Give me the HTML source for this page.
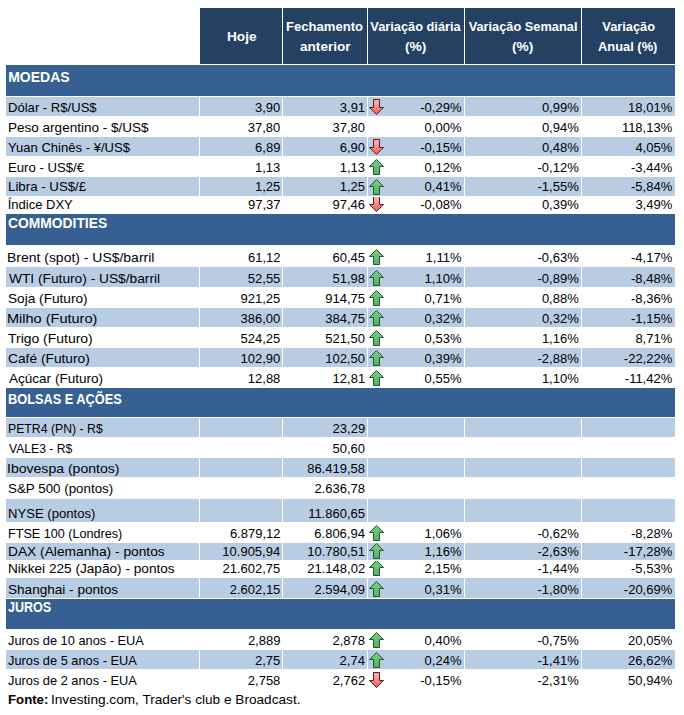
<!DOCTYPE html>
<html><head><meta charset="utf-8"><style>
html,body{margin:0;padding:0;background:#fff;}
body{width:684px;height:715px;position:relative;overflow:hidden;font-family:"Liberation Sans",sans-serif;color:#000;}
.r{position:absolute;}
.t{position:absolute;white-space:nowrap;}
.clip{position:absolute;overflow:hidden;}
.ar{position:absolute;}
</style></head><body>
<svg width="0" height="0" style="position:absolute"><defs><linearGradient id="gu" x1="0" y1="0" x2="0" y2="1"><stop offset="0" stop-color="#7CCB89"/><stop offset="1" stop-color="#52B264"/></linearGradient><linearGradient id="gd" x1="0" y1="0" x2="0" y2="1"><stop offset="0" stop-color="#F8B8BC"/><stop offset="0.5" stop-color="#F48A8E"/><stop offset="1" stop-color="#EE5A5A"/></linearGradient></defs></svg>
<div class="r" style="left:200px;top:8px;width:475px;height:56px;background:#244062"></div>
<div class="r" style="left:282px;top:8px;width:1px;height:56px;background:#fff"></div>
<div class="r" style="left:367px;top:8px;width:1px;height:56px;background:#fff"></div>
<div class="r" style="left:464px;top:8px;width:1px;height:56px;background:#fff"></div>
<div class="r" style="left:581px;top:8px;width:1px;height:56px;background:#fff"></div>
<div class="t" style="left:226.72px;top:29.06px;font-size:12.8px;line-height:15px;font-weight:bold;color:#fff;transform:scaleX(1.0631);transform-origin:0 0;">Hoje</div>
<div class="t" style="left:285.75px;top:19.06px;font-size:12.8px;line-height:15px;font-weight:bold;color:#fff;transform:scaleX(1.0210);transform-origin:0 0;">Fechamento</div>
<div class="t" style="left:299.79px;top:38.86px;font-size:12.8px;line-height:15px;font-weight:bold;color:#fff;transform:scaleX(1.0615);transform-origin:0 0;">anterior</div>
<div class="t" style="left:370.34px;top:19.06px;font-size:12.8px;line-height:15px;font-weight:bold;color:#fff;">Variação diária</div>
<div class="t" style="left:405.31px;top:38.86px;font-size:12.8px;line-height:15px;font-weight:bold;color:#fff;transform:scaleX(1.0739);transform-origin:0 0;">(%)</div>
<div class="t" style="left:468.64px;top:19.06px;font-size:12.8px;line-height:15px;font-weight:bold;color:#fff;">Variação Semanal</div>
<div class="t" style="left:511.72px;top:38.86px;font-size:12.8px;line-height:15px;font-weight:bold;color:#fff;transform:scaleX(1.0685);transform-origin:0 0;">(%)</div>
<div class="t" style="left:602.34px;top:19.06px;font-size:12.8px;line-height:15px;font-weight:bold;color:#fff;">Variação</div>
<div class="t" style="left:597.98px;top:38.86px;font-size:12.8px;line-height:15px;font-weight:bold;color:#fff;transform:scaleX(1.0067);transform-origin:0 0;">Anual (%)</div>
<div class="r" style="left:6px;top:65px;width:669px;height:31px;background:#366092"></div>
<div class="t" style="left:8.19px;top:68.65px;font-size:14.0px;line-height:17px;font-weight:bold;color:#fff;">MOEDAS</div>
<div class="r" style="left:6px;top:97px;width:669px;height:19px;background:#B8CCE4"></div>
<div class="r" style="left:199px;top:97px;width:1px;height:19px;background:#fff"></div>
<div class="r" style="left:282px;top:97px;width:1px;height:19px;background:#fff"></div>
<div class="r" style="left:367px;top:97px;width:1px;height:19px;background:#fff"></div>
<div class="r" style="left:464px;top:97px;width:1px;height:19px;background:#fff"></div>
<div class="r" style="left:581px;top:97px;width:1px;height:19px;background:#fff"></div>
<div class="t" style="left:7.55px;top:99.50px;font-size:13.0px;line-height:16px;transform:scaleX(1.0057);transform-origin:0 0;">Dólar - R$/US$</div>
<div class="t" style="left:254.97px;top:99.50px;font-size:13.0px;line-height:16px;">3,90</div>
<div class="t" style="left:339.80px;top:99.50px;font-size:13.0px;line-height:16px;">3,91</div>
<div class="t" style="left:420.25px;top:99.50px;font-size:13.0px;line-height:16px;">-0,29%</div>
<div class="t" style="left:541.90px;top:99.50px;font-size:13.0px;line-height:16px;">0,99%</div>
<div class="t" style="left:628.12px;top:99.50px;font-size:13.0px;line-height:16px;">18,01%</div>
<div class="clip" style="left:368px;top:97px;width:20px;height:19px"><svg class="ar" style="left:0px;top:1px" width="17" height="18" viewBox="0 0 17 18"><path d="M5.5 1.5 L11.5 1.5 L11.5 9.5 L15.5 9.5 L8.5 16.5 L1.5 9.5 L5.5 9.5 Z" fill="url(#gd)" stroke="#621818" stroke-width="1"/></svg></div>
<div class="t" style="left:7.52px;top:119.50px;font-size:13.0px;line-height:16px;transform:scaleX(1.0403);transform-origin:0 0;">Peso argentino - $/US$</div>
<div class="t" style="left:247.75px;top:119.50px;font-size:13.0px;line-height:16px;">37,80</div>
<div class="t" style="left:332.45px;top:119.50px;font-size:13.0px;line-height:16px;">37,80</div>
<div class="t" style="left:424.60px;top:119.50px;font-size:13.0px;line-height:16px;">0,00%</div>
<div class="t" style="left:541.90px;top:119.50px;font-size:13.0px;line-height:16px;">0,94%</div>
<div class="t" style="left:621.88px;top:119.50px;font-size:13.0px;line-height:16px;">118,13%</div>
<div class="r" style="left:6px;top:137px;width:669px;height:19px;background:#B8CCE4"></div>
<div class="r" style="left:199px;top:137px;width:1px;height:19px;background:#fff"></div>
<div class="r" style="left:282px;top:137px;width:1px;height:19px;background:#fff"></div>
<div class="r" style="left:367px;top:137px;width:1px;height:19px;background:#fff"></div>
<div class="r" style="left:464px;top:137px;width:1px;height:19px;background:#fff"></div>
<div class="r" style="left:581px;top:137px;width:1px;height:19px;background:#fff"></div>
<div class="t" style="left:7.87px;top:139.50px;font-size:13.0px;line-height:16px;transform:scaleX(1.0050);transform-origin:0 0;">Yuan Chinês - ¥/US$</div>
<div class="t" style="left:255.10px;top:139.50px;font-size:13.0px;line-height:16px;">6,89</div>
<div class="t" style="left:339.67px;top:139.50px;font-size:13.0px;line-height:16px;">6,90</div>
<div class="t" style="left:420.25px;top:139.50px;font-size:13.0px;line-height:16px;">-0,15%</div>
<div class="t" style="left:541.90px;top:139.50px;font-size:13.0px;line-height:16px;">0,48%</div>
<div class="t" style="left:635.40px;top:139.50px;font-size:13.0px;line-height:16px;">4,05%</div>
<div class="clip" style="left:368px;top:137px;width:20px;height:19px"><svg class="ar" style="left:0px;top:1px" width="17" height="18" viewBox="0 0 17 18"><path d="M5.5 1.5 L11.5 1.5 L11.5 9.5 L15.5 9.5 L8.5 16.5 L1.5 9.5 L5.5 9.5 Z" fill="url(#gd)" stroke="#621818" stroke-width="1"/></svg></div>
<div class="t" style="left:7.55px;top:159.50px;font-size:13.0px;line-height:16px;transform:scaleX(1.0121);transform-origin:0 0;">Euro - US$/€</div>
<div class="t" style="left:255.04px;top:159.50px;font-size:13.0px;line-height:16px;">1,13</div>
<div class="t" style="left:339.74px;top:159.50px;font-size:13.0px;line-height:16px;">1,13</div>
<div class="t" style="left:424.60px;top:159.50px;font-size:13.0px;line-height:16px;">0,12%</div>
<div class="t" style="left:537.54px;top:159.50px;font-size:13.0px;line-height:16px;">-0,12%</div>
<div class="t" style="left:631.04px;top:159.50px;font-size:13.0px;line-height:16px;">-3,44%</div>
<div class="clip" style="left:368px;top:157px;width:20px;height:19px"><svg class="ar" style="left:0px;top:1px" width="17" height="18" viewBox="0 0 17 18"><path d="M8.5 1.5 L15.5 8.5 L11.5 8.5 L11.5 16.5 L5.5 16.5 L5.5 8.5 L1.5 8.5 Z" fill="url(#gu)" stroke="#1D5A27" stroke-width="1"/></svg></div>
<div class="r" style="left:6px;top:177px;width:669px;height:19px;background:#B8CCE4"></div>
<div class="r" style="left:199px;top:177px;width:1px;height:19px;background:#fff"></div>
<div class="r" style="left:282px;top:177px;width:1px;height:19px;background:#fff"></div>
<div class="r" style="left:367px;top:177px;width:1px;height:19px;background:#fff"></div>
<div class="r" style="left:464px;top:177px;width:1px;height:19px;background:#fff"></div>
<div class="r" style="left:581px;top:177px;width:1px;height:19px;background:#fff"></div>
<div class="t" style="left:7.54px;top:179.10px;font-size:13.0px;line-height:16px;transform:scaleX(1.0208);transform-origin:0 0;">Libra - US$/£</div>
<div class="t" style="left:255.04px;top:179.10px;font-size:13.0px;line-height:16px;">1,25</div>
<div class="t" style="left:339.74px;top:179.10px;font-size:13.0px;line-height:16px;">1,25</div>
<div class="t" style="left:424.60px;top:179.10px;font-size:13.0px;line-height:16px;">0,41%</div>
<div class="t" style="left:537.54px;top:179.10px;font-size:13.0px;line-height:16px;">-1,55%</div>
<div class="t" style="left:631.04px;top:179.10px;font-size:13.0px;line-height:16px;">-5,84%</div>
<div class="clip" style="left:368px;top:177px;width:20px;height:19px"><svg class="ar" style="left:0px;top:1px" width="17" height="18" viewBox="0 0 17 18"><path d="M8.5 1.5 L15.5 8.5 L11.5 8.5 L11.5 16.5 L5.5 16.5 L5.5 8.5 L1.5 8.5 Z" fill="url(#gu)" stroke="#1D5A27" stroke-width="1"/></svg></div>
<div class="t" style="left:7.69px;top:196.50px;font-size:13.0px;line-height:16px;">Índice DXY</div>
<div class="t" style="left:247.95px;top:196.50px;font-size:13.0px;line-height:16px;">97,37</div>
<div class="t" style="left:332.52px;top:196.50px;font-size:13.0px;line-height:16px;">97,46</div>
<div class="t" style="left:420.25px;top:196.50px;font-size:13.0px;line-height:16px;">-0,08%</div>
<div class="t" style="left:541.90px;top:196.50px;font-size:13.0px;line-height:16px;">0,39%</div>
<div class="t" style="left:635.40px;top:196.50px;font-size:13.0px;line-height:16px;">3,49%</div>
<div class="clip" style="left:368px;top:197px;width:20px;height:17px"><svg class="ar" style="left:0px;top:-2px" width="17" height="18" viewBox="0 0 17 18"><path d="M5.5 1.5 L11.5 1.5 L11.5 9.5 L15.5 9.5 L8.5 16.5 L1.5 9.5 L5.5 9.5 Z" fill="url(#gd)" stroke="#621818" stroke-width="1"/></svg></div>
<div class="r" style="left:6px;top:214px;width:669px;height:31px;background:#366092"></div>
<div class="t" style="left:8.25px;top:214.65px;font-size:14.0px;line-height:17px;font-weight:bold;color:#fff;transform:scaleX(0.9883);transform-origin:0 0;">COMMODITIES</div>
<div class="t" style="left:7.48px;top:249.50px;font-size:13.0px;line-height:16px;transform:scaleX(1.0737);transform-origin:0 0;">Brent (spot) - US$/barril</div>
<div class="t" style="left:247.95px;top:249.50px;font-size:13.0px;line-height:16px;">61,12</div>
<div class="t" style="left:332.52px;top:249.50px;font-size:13.0px;line-height:16px;">60,45</div>
<div class="t" style="left:425.57px;top:249.50px;font-size:13.0px;line-height:16px;">1,11%</div>
<div class="t" style="left:537.54px;top:249.50px;font-size:13.0px;line-height:16px;">-0,63%</div>
<div class="t" style="left:631.04px;top:249.50px;font-size:13.0px;line-height:16px;">-4,17%</div>
<div class="clip" style="left:368px;top:245px;width:20px;height:21px"><svg class="ar" style="left:0px;top:3px" width="17" height="18" viewBox="0 0 17 18"><path d="M8.5 1.5 L15.5 8.5 L11.5 8.5 L11.5 16.5 L5.5 16.5 L5.5 8.5 L1.5 8.5 Z" fill="url(#gu)" stroke="#1D5A27" stroke-width="1"/></svg></div>
<div class="r" style="left:6px;top:267px;width:669px;height:20px;background:#B8CCE4"></div>
<div class="r" style="left:199px;top:267px;width:1px;height:20px;background:#fff"></div>
<div class="r" style="left:282px;top:267px;width:1px;height:20px;background:#fff"></div>
<div class="r" style="left:367px;top:267px;width:1px;height:20px;background:#fff"></div>
<div class="r" style="left:464px;top:267px;width:1px;height:20px;background:#fff"></div>
<div class="r" style="left:581px;top:267px;width:1px;height:20px;background:#fff"></div>
<div class="t" style="left:8.53px;top:270.50px;font-size:13.0px;line-height:16px;transform:scaleX(1.0564);transform-origin:0 0;">WTI (Futuro) - US$/barril</div>
<div class="t" style="left:247.82px;top:270.50px;font-size:13.0px;line-height:16px;">52,55</div>
<div class="t" style="left:332.52px;top:270.50px;font-size:13.0px;line-height:16px;">51,98</div>
<div class="t" style="left:424.60px;top:270.50px;font-size:13.0px;line-height:16px;">1,10%</div>
<div class="t" style="left:537.54px;top:270.50px;font-size:13.0px;line-height:16px;">-0,89%</div>
<div class="t" style="left:631.04px;top:270.50px;font-size:13.0px;line-height:16px;">-8,48%</div>
<div class="clip" style="left:368px;top:267px;width:20px;height:20px"><svg class="ar" style="left:0px;top:2px" width="17" height="18" viewBox="0 0 17 18"><path d="M8.5 1.5 L15.5 8.5 L11.5 8.5 L11.5 16.5 L5.5 16.5 L5.5 8.5 L1.5 8.5 Z" fill="url(#gu)" stroke="#1D5A27" stroke-width="1"/></svg></div>
<div class="t" style="left:7.99px;top:290.50px;font-size:13.0px;line-height:16px;transform:scaleX(1.0498);transform-origin:0 0;">Soja (Futuro)</div>
<div class="t" style="left:240.54px;top:290.50px;font-size:13.0px;line-height:16px;">921,25</div>
<div class="t" style="left:325.24px;top:290.50px;font-size:13.0px;line-height:16px;">914,75</div>
<div class="t" style="left:424.60px;top:290.50px;font-size:13.0px;line-height:16px;">0,71%</div>
<div class="t" style="left:541.90px;top:290.50px;font-size:13.0px;line-height:16px;">0,88%</div>
<div class="t" style="left:631.04px;top:290.50px;font-size:13.0px;line-height:16px;">-8,36%</div>
<div class="clip" style="left:368px;top:288px;width:20px;height:19px"><svg class="ar" style="left:0px;top:1px" width="17" height="18" viewBox="0 0 17 18"><path d="M8.5 1.5 L15.5 8.5 L11.5 8.5 L11.5 16.5 L5.5 16.5 L5.5 8.5 L1.5 8.5 Z" fill="url(#gu)" stroke="#1D5A27" stroke-width="1"/></svg></div>
<div class="r" style="left:6px;top:308px;width:669px;height:19px;background:#B8CCE4"></div>
<div class="r" style="left:199px;top:308px;width:1px;height:19px;background:#fff"></div>
<div class="r" style="left:282px;top:308px;width:1px;height:19px;background:#fff"></div>
<div class="r" style="left:367px;top:308px;width:1px;height:19px;background:#fff"></div>
<div class="r" style="left:464px;top:308px;width:1px;height:19px;background:#fff"></div>
<div class="r" style="left:581px;top:308px;width:1px;height:19px;background:#fff"></div>
<div class="t" style="left:7.44px;top:310.50px;font-size:13.0px;line-height:16px;transform:scaleX(1.1159);transform-origin:0 0;">Milho (Futuro)</div>
<div class="t" style="left:240.48px;top:310.50px;font-size:13.0px;line-height:16px;">386,00</div>
<div class="t" style="left:325.24px;top:310.50px;font-size:13.0px;line-height:16px;">384,75</div>
<div class="t" style="left:424.60px;top:310.50px;font-size:13.0px;line-height:16px;">0,32%</div>
<div class="t" style="left:541.90px;top:310.50px;font-size:13.0px;line-height:16px;">0,32%</div>
<div class="t" style="left:631.04px;top:310.50px;font-size:13.0px;line-height:16px;">-1,15%</div>
<div class="clip" style="left:368px;top:308px;width:20px;height:19px"><svg class="ar" style="left:0px;top:1px" width="17" height="18" viewBox="0 0 17 18"><path d="M8.5 1.5 L15.5 8.5 L11.5 8.5 L11.5 16.5 L5.5 16.5 L5.5 8.5 L1.5 8.5 Z" fill="url(#gu)" stroke="#1D5A27" stroke-width="1"/></svg></div>
<div class="t" style="left:8.32px;top:330.50px;font-size:13.0px;line-height:16px;transform:scaleX(1.0723);transform-origin:0 0;">Trigo (Futuro)</div>
<div class="t" style="left:240.54px;top:330.50px;font-size:13.0px;line-height:16px;">524,25</div>
<div class="t" style="left:325.18px;top:330.50px;font-size:13.0px;line-height:16px;">521,50</div>
<div class="t" style="left:424.60px;top:330.50px;font-size:13.0px;line-height:16px;">0,53%</div>
<div class="t" style="left:541.90px;top:330.50px;font-size:13.0px;line-height:16px;">1,16%</div>
<div class="t" style="left:635.40px;top:330.50px;font-size:13.0px;line-height:16px;">8,71%</div>
<div class="clip" style="left:368px;top:328px;width:20px;height:19px"><svg class="ar" style="left:0px;top:1px" width="17" height="18" viewBox="0 0 17 18"><path d="M8.5 1.5 L15.5 8.5 L11.5 8.5 L11.5 16.5 L5.5 16.5 L5.5 8.5 L1.5 8.5 Z" fill="url(#gu)" stroke="#1D5A27" stroke-width="1"/></svg></div>
<div class="r" style="left:6px;top:348px;width:669px;height:19px;background:#B8CCE4"></div>
<div class="r" style="left:199px;top:348px;width:1px;height:19px;background:#fff"></div>
<div class="r" style="left:282px;top:348px;width:1px;height:19px;background:#fff"></div>
<div class="r" style="left:367px;top:348px;width:1px;height:19px;background:#fff"></div>
<div class="r" style="left:464px;top:348px;width:1px;height:19px;background:#fff"></div>
<div class="r" style="left:581px;top:348px;width:1px;height:19px;background:#fff"></div>
<div class="t" style="left:7.91px;top:350.50px;font-size:13.0px;line-height:16px;transform:scaleX(1.0586);transform-origin:0 0;">Café (Futuro)</div>
<div class="t" style="left:240.48px;top:350.50px;font-size:13.0px;line-height:16px;">102,90</div>
<div class="t" style="left:325.18px;top:350.50px;font-size:13.0px;line-height:16px;">102,50</div>
<div class="t" style="left:424.60px;top:350.50px;font-size:13.0px;line-height:16px;">0,39%</div>
<div class="t" style="left:537.54px;top:350.50px;font-size:13.0px;line-height:16px;">-2,88%</div>
<div class="t" style="left:623.83px;top:350.50px;font-size:13.0px;line-height:16px;">-22,22%</div>
<div class="clip" style="left:368px;top:348px;width:20px;height:19px"><svg class="ar" style="left:0px;top:1px" width="17" height="18" viewBox="0 0 17 18"><path d="M8.5 1.5 L15.5 8.5 L11.5 8.5 L11.5 16.5 L5.5 16.5 L5.5 8.5 L1.5 8.5 Z" fill="url(#gu)" stroke="#1D5A27" stroke-width="1"/></svg></div>
<div class="t" style="left:8.60px;top:370.50px;font-size:13.0px;line-height:16px;transform:scaleX(1.0413);transform-origin:0 0;">Açúcar (Futuro)</div>
<div class="t" style="left:247.82px;top:370.50px;font-size:13.0px;line-height:16px;">12,88</div>
<div class="t" style="left:332.58px;top:370.50px;font-size:13.0px;line-height:16px;">12,81</div>
<div class="t" style="left:424.60px;top:370.50px;font-size:13.0px;line-height:16px;">0,55%</div>
<div class="t" style="left:541.90px;top:370.50px;font-size:13.0px;line-height:16px;">1,10%</div>
<div class="t" style="left:624.80px;top:370.50px;font-size:13.0px;line-height:16px;">-11,42%</div>
<div class="clip" style="left:368px;top:368px;width:20px;height:20px"><svg class="ar" style="left:0px;top:1px" width="17" height="18" viewBox="0 0 17 18"><path d="M8.5 1.5 L15.5 8.5 L11.5 8.5 L11.5 16.5 L5.5 16.5 L5.5 8.5 L1.5 8.5 Z" fill="url(#gu)" stroke="#1D5A27" stroke-width="1"/></svg></div>
<div class="r" style="left:6px;top:388px;width:669px;height:29px;background:#366092"></div>
<div class="t" style="left:8.27px;top:390.65px;font-size:14.0px;line-height:17px;font-weight:bold;color:#fff;transform:scaleX(0.9118);transform-origin:0 0;">BOLSAS E AÇÕES</div>
<div class="r" style="left:6px;top:418px;width:669px;height:19px;background:#B8CCE4"></div>
<div class="r" style="left:199px;top:418px;width:1px;height:19px;background:#fff"></div>
<div class="r" style="left:282px;top:418px;width:1px;height:19px;background:#fff"></div>
<div class="r" style="left:367px;top:418px;width:1px;height:19px;background:#fff"></div>
<div class="r" style="left:464px;top:418px;width:1px;height:19px;background:#fff"></div>
<div class="r" style="left:581px;top:418px;width:1px;height:19px;background:#fff"></div>
<div class="t" style="left:7.62px;top:420.50px;font-size:13.0px;line-height:16px;transform:scaleX(0.9433);transform-origin:0 0;">PETR4 (PN) - R$</div>
<div class="t" style="left:332.58px;top:420.50px;font-size:13.0px;line-height:16px;">23,29</div>
<div class="t" style="left:8.54px;top:440.50px;font-size:13.0px;line-height:16px;transform:scaleX(0.9346);transform-origin:0 0;">VALE3 - R$</div>
<div class="t" style="left:332.45px;top:440.50px;font-size:13.0px;line-height:16px;">50,60</div>
<div class="r" style="left:6px;top:458px;width:669px;height:19px;background:#B8CCE4"></div>
<div class="r" style="left:199px;top:458px;width:1px;height:19px;background:#fff"></div>
<div class="r" style="left:282px;top:458px;width:1px;height:19px;background:#fff"></div>
<div class="r" style="left:367px;top:458px;width:1px;height:19px;background:#fff"></div>
<div class="r" style="left:464px;top:458px;width:1px;height:19px;background:#fff"></div>
<div class="r" style="left:581px;top:458px;width:1px;height:19px;background:#fff"></div>
<div class="t" style="left:7.34px;top:460.50px;font-size:13.0px;line-height:16px;transform:scaleX(1.0808);transform-origin:0 0;">Ibovespa (pontos)</div>
<div class="t" style="left:307.17px;top:460.50px;font-size:13.0px;line-height:16px;">86.419,58</div>
<div class="t" style="left:8.00px;top:481.10px;font-size:13.0px;line-height:16px;transform:scaleX(1.0276);transform-origin:0 0;">S&amp;P 500 (pontos)</div>
<div class="t" style="left:314.45px;top:481.10px;font-size:13.0px;line-height:16px;">2.636,78</div>
<div class="r" style="left:6px;top:499px;width:669px;height:23px;background:#B8CCE4"></div>
<div class="r" style="left:199px;top:499px;width:1px;height:23px;background:#fff"></div>
<div class="r" style="left:282px;top:499px;width:1px;height:23px;background:#fff"></div>
<div class="r" style="left:367px;top:499px;width:1px;height:23px;background:#fff"></div>
<div class="r" style="left:464px;top:499px;width:1px;height:23px;background:#fff"></div>
<div class="r" style="left:581px;top:499px;width:1px;height:23px;background:#fff"></div>
<div class="t" style="left:7.55px;top:505.50px;font-size:13.0px;line-height:16px;transform:scaleX(1.0091);transform-origin:0 0;">NYSE (pontos)</div>
<div class="t" style="left:308.14px;top:505.50px;font-size:13.0px;line-height:16px;">11.860,65</div>
<div class="t" style="left:7.59px;top:525.50px;font-size:13.0px;line-height:16px;transform:scaleX(0.9698);transform-origin:0 0;">FTSE 100 (Londres)</div>
<div class="t" style="left:229.88px;top:525.50px;font-size:13.0px;line-height:16px;">6.879,12</div>
<div class="t" style="left:314.32px;top:525.50px;font-size:13.0px;line-height:16px;">6.806,94</div>
<div class="t" style="left:424.60px;top:525.50px;font-size:13.0px;line-height:16px;">1,06%</div>
<div class="t" style="left:537.54px;top:525.50px;font-size:13.0px;line-height:16px;">-0,62%</div>
<div class="t" style="left:631.04px;top:525.50px;font-size:13.0px;line-height:16px;">-8,28%</div>
<div class="clip" style="left:368px;top:523px;width:20px;height:19px"><svg class="ar" style="left:0px;top:1px" width="17" height="18" viewBox="0 0 17 18"><path d="M8.5 1.5 L15.5 8.5 L11.5 8.5 L11.5 16.5 L5.5 16.5 L5.5 8.5 L1.5 8.5 Z" fill="url(#gu)" stroke="#1D5A27" stroke-width="1"/></svg></div>
<div class="r" style="left:6px;top:543px;width:669px;height:17px;background:#B8CCE4"></div>
<div class="r" style="left:199px;top:543px;width:1px;height:17px;background:#fff"></div>
<div class="r" style="left:282px;top:543px;width:1px;height:17px;background:#fff"></div>
<div class="r" style="left:367px;top:543px;width:1px;height:17px;background:#fff"></div>
<div class="r" style="left:464px;top:543px;width:1px;height:17px;background:#fff"></div>
<div class="r" style="left:581px;top:543px;width:1px;height:17px;background:#fff"></div>
<div class="t" style="left:7.50px;top:543.50px;font-size:13.0px;line-height:16px;transform:scaleX(1.0577);transform-origin:0 0;">DAX (Alemanha) - pontos</div>
<div class="t" style="left:222.34px;top:543.50px;font-size:13.0px;line-height:16px;">10.905,94</div>
<div class="t" style="left:307.24px;top:543.50px;font-size:13.0px;line-height:16px;">10.780,51</div>
<div class="t" style="left:424.60px;top:543.50px;font-size:13.0px;line-height:16px;">1,16%</div>
<div class="t" style="left:537.54px;top:543.50px;font-size:13.0px;line-height:16px;">-2,63%</div>
<div class="t" style="left:623.83px;top:543.50px;font-size:13.0px;line-height:16px;">-17,28%</div>
<div class="clip" style="left:368px;top:543px;width:20px;height:17px"><svg class="ar" style="left:0px;top:-1px" width="17" height="18" viewBox="0 0 17 18"><path d="M8.5 1.5 L15.5 8.5 L11.5 8.5 L11.5 16.5 L5.5 16.5 L5.5 8.5 L1.5 8.5 Z" fill="url(#gu)" stroke="#1D5A27" stroke-width="1"/></svg></div>
<div class="t" style="left:7.51px;top:560.50px;font-size:13.0px;line-height:16px;transform:scaleX(1.0483);transform-origin:0 0;">Nikkei 225 (Japão) - pontos</div>
<div class="t" style="left:222.47px;top:560.50px;font-size:13.0px;line-height:16px;">21.602,75</div>
<div class="t" style="left:307.30px;top:560.50px;font-size:13.0px;line-height:16px;">21.148,02</div>
<div class="t" style="left:424.60px;top:560.50px;font-size:13.0px;line-height:16px;">2,15%</div>
<div class="t" style="left:537.54px;top:560.50px;font-size:13.0px;line-height:16px;">-1,44%</div>
<div class="t" style="left:631.04px;top:560.50px;font-size:13.0px;line-height:16px;">-5,53%</div>
<div class="clip" style="left:368px;top:561px;width:20px;height:16px"><svg class="ar" style="left:0px;top:-2px" width="17" height="18" viewBox="0 0 17 18"><path d="M8.5 1.5 L15.5 8.5 L11.5 8.5 L11.5 16.5 L5.5 16.5 L5.5 8.5 L1.5 8.5 Z" fill="url(#gu)" stroke="#1D5A27" stroke-width="1"/></svg></div>
<div class="r" style="left:6px;top:578px;width:669px;height:20px;background:#B8CCE4"></div>
<div class="r" style="left:199px;top:578px;width:1px;height:20px;background:#fff"></div>
<div class="r" style="left:282px;top:578px;width:1px;height:20px;background:#fff"></div>
<div class="r" style="left:367px;top:578px;width:1px;height:20px;background:#fff"></div>
<div class="r" style="left:464px;top:578px;width:1px;height:20px;background:#fff"></div>
<div class="r" style="left:581px;top:578px;width:1px;height:20px;background:#fff"></div>
<div class="t" style="left:7.99px;top:581.50px;font-size:13.0px;line-height:16px;transform:scaleX(1.0435);transform-origin:0 0;">Shanghai - pontos</div>
<div class="t" style="left:229.75px;top:581.50px;font-size:13.0px;line-height:16px;">2.602,15</div>
<div class="t" style="left:314.51px;top:581.50px;font-size:13.0px;line-height:16px;">2.594,09</div>
<div class="t" style="left:424.60px;top:581.50px;font-size:13.0px;line-height:16px;">0,31%</div>
<div class="t" style="left:537.54px;top:581.50px;font-size:13.0px;line-height:16px;">-1,80%</div>
<div class="t" style="left:623.83px;top:581.50px;font-size:13.0px;line-height:16px;">-20,69%</div>
<div class="clip" style="left:368px;top:578px;width:20px;height:20px"><svg class="ar" style="left:0px;top:2px" width="17" height="18" viewBox="0 0 17 18"><path d="M8.5 1.5 L15.5 8.5 L11.5 8.5 L11.5 16.5 L5.5 16.5 L5.5 8.5 L1.5 8.5 Z" fill="url(#gu)" stroke="#1D5A27" stroke-width="1"/></svg></div>
<div class="r" style="left:6px;top:599px;width:669px;height:30px;background:#366092"></div>
<div class="t" style="left:7.71px;top:598.65px;font-size:14.0px;line-height:17px;font-weight:bold;color:#fff;transform:scaleX(0.8963);transform-origin:0 0;">JUROS</div>
<div class="t" style="left:7.81px;top:632.50px;font-size:13.0px;line-height:16px;transform:scaleX(0.9840);transform-origin:0 0;">Juros de 10 anos - EUA</div>
<div class="t" style="left:247.89px;top:632.50px;font-size:13.0px;line-height:16px;">2,889</div>
<div class="t" style="left:332.52px;top:632.50px;font-size:13.0px;line-height:16px;">2,878</div>
<div class="t" style="left:424.60px;top:632.50px;font-size:13.0px;line-height:16px;">0,40%</div>
<div class="t" style="left:537.54px;top:632.50px;font-size:13.0px;line-height:16px;">-0,75%</div>
<div class="t" style="left:628.12px;top:632.50px;font-size:13.0px;line-height:16px;">20,05%</div>
<div class="clip" style="left:368px;top:629px;width:20px;height:20px"><svg class="ar" style="left:0px;top:2px" width="17" height="18" viewBox="0 0 17 18"><path d="M8.5 1.5 L15.5 8.5 L11.5 8.5 L11.5 16.5 L5.5 16.5 L5.5 8.5 L1.5 8.5 Z" fill="url(#gu)" stroke="#1D5A27" stroke-width="1"/></svg></div>
<div class="r" style="left:6px;top:650px;width:669px;height:19px;background:#B8CCE4"></div>
<div class="r" style="left:199px;top:650px;width:1px;height:19px;background:#fff"></div>
<div class="r" style="left:282px;top:650px;width:1px;height:19px;background:#fff"></div>
<div class="r" style="left:367px;top:650px;width:1px;height:19px;background:#fff"></div>
<div class="r" style="left:464px;top:650px;width:1px;height:19px;background:#fff"></div>
<div class="r" style="left:581px;top:650px;width:1px;height:19px;background:#fff"></div>
<div class="t" style="left:7.81px;top:652.50px;font-size:13.0px;line-height:16px;transform:scaleX(0.9848);transform-origin:0 0;">Juros de 5 anos - EUA</div>
<div class="t" style="left:255.04px;top:652.50px;font-size:13.0px;line-height:16px;">2,75</div>
<div class="t" style="left:339.61px;top:652.50px;font-size:13.0px;line-height:16px;">2,74</div>
<div class="t" style="left:424.60px;top:652.50px;font-size:13.0px;line-height:16px;">0,24%</div>
<div class="t" style="left:537.54px;top:652.50px;font-size:13.0px;line-height:16px;">-1,41%</div>
<div class="t" style="left:628.12px;top:652.50px;font-size:13.0px;line-height:16px;">26,62%</div>
<div class="clip" style="left:368px;top:650px;width:20px;height:19px"><svg class="ar" style="left:0px;top:1px" width="17" height="18" viewBox="0 0 17 18"><path d="M8.5 1.5 L15.5 8.5 L11.5 8.5 L11.5 16.5 L5.5 16.5 L5.5 8.5 L1.5 8.5 Z" fill="url(#gu)" stroke="#1D5A27" stroke-width="1"/></svg></div>
<div class="t" style="left:7.81px;top:672.50px;font-size:13.0px;line-height:16px;transform:scaleX(0.9848);transform-origin:0 0;">Juros de 2 anos - EUA</div>
<div class="t" style="left:247.82px;top:672.50px;font-size:13.0px;line-height:16px;">2,758</div>
<div class="t" style="left:332.65px;top:672.50px;font-size:13.0px;line-height:16px;">2,762</div>
<div class="t" style="left:420.25px;top:672.50px;font-size:13.0px;line-height:16px;">-0,15%</div>
<div class="t" style="left:537.54px;top:672.50px;font-size:13.0px;line-height:16px;">-2,31%</div>
<div class="t" style="left:628.12px;top:672.50px;font-size:13.0px;line-height:16px;">50,94%</div>
<div class="clip" style="left:368px;top:670px;width:20px;height:19px"><svg class="ar" style="left:0px;top:1px" width="17" height="18" viewBox="0 0 17 18"><path d="M5.5 1.5 L11.5 1.5 L11.5 9.5 L15.5 9.5 L8.5 16.5 L1.5 9.5 L5.5 9.5 Z" fill="url(#gd)" stroke="#621818" stroke-width="1"/></svg></div>
<div class="t" style="left:8.24px;top:692.30px;font-size:13.0px;line-height:16px;font-weight:bold;transform:scaleX(1.0168);transform-origin:0 0;">Fonte:</div>
<div class="t" style="left:51.17px;top:692.30px;font-size:13.0px;line-height:16px;transform:scaleX(1.0480);transform-origin:0 0;">Investing.com, Trader's club e Broadcast.</div>
</body></html>
